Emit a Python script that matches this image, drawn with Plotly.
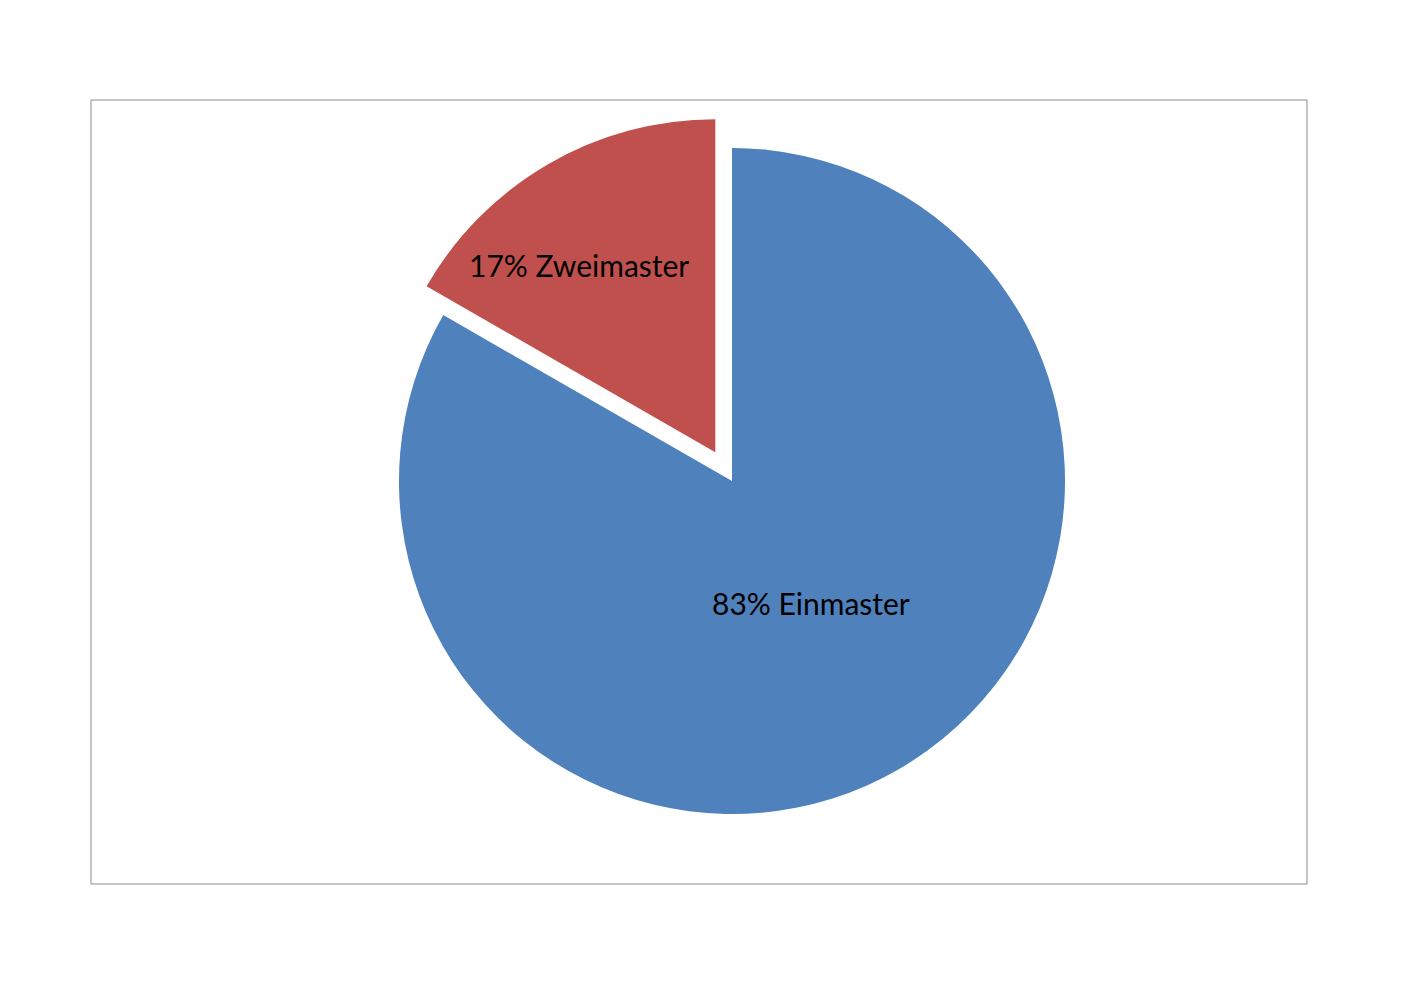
import plotly.graph_objects as go

labels = ["Einmaster", "Zweimaster"]
values = [83.3, 16.7]
colors = ["#4F81BD", "#C0504D"]
pulls = [0, 0.1]

W, H = 1403, 989
OFF = 8  # body margin of the html page
cx, cy, r = 732 - OFF, 481 - OFF, 333
half = r * (1 + max(pulls))

total = sum(values)
label_texts = [f"{round(v / total * 100)}% {l}" for l, v in zip(labels, values)]
label_pos = [(811 - OFF, 603 - OFF), (579 - OFF, 265 - OFF)]

fig = go.Figure(go.Pie(
    labels=labels,
    values=values,
    pull=pulls,
    sort=False,
    direction="clockwise",
    rotation=0,
    marker=dict(colors=colors, line=dict(width=0)),
    textinfo="none",
    showlegend=False,
    hoverinfo="label+percent",
    domain=dict(x=[(cx - half) / W, (cx + half) / W],
                y=[(H - cy - half) / H, (H - cy + half) / H]),
))

for txt, (px, py) in zip(label_texts, label_pos):
    fig.add_annotation(x=px / W, y=1 - py / H, xref="paper", yref="paper",
                       text=txt, showarrow=False, xanchor="center", yanchor="middle",
                       font=dict(family="Lato, Open Sans, sans-serif", size=30, color="black"))

fig.add_shape(type="rect", xref="paper", yref="paper",
              x0=(91 - OFF) / W, x1=(1307 - OFF) / W,
              y0=1 - (884 - OFF) / H, y1=1 - (100 - OFF) / H,
              line=dict(color="#8C8C8C", width=1), fillcolor="rgba(0,0,0,0)")

fig.update_layout(width=W, height=H, margin=dict(l=0, r=0, t=0, b=0),
                  paper_bgcolor="white", plot_bgcolor="white")

fig.write_html("out.html")
